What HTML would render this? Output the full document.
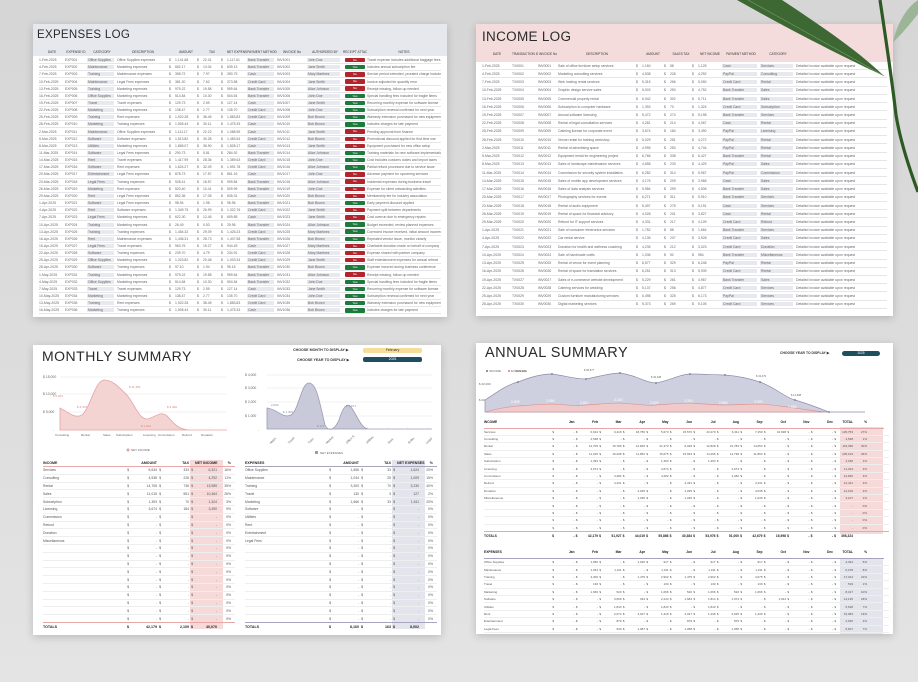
<!DOCTYPE html><html><head><meta charset="utf-8"><style>
*{margin:0;padding:0;box-sizing:border-box}
body{width:918px;height:682px;overflow:hidden;background:linear-gradient(#d6d6d6,#dcdcdc 50%,#e4e4e4);font-family:"Liberation Sans",sans-serif;position:relative;color:#333}
.p{position:absolute;background:#fff;box-shadow:0 2px 8px rgba(0,0,0,.18);overflow:hidden}
.t{position:absolute;font-size:13px;letter-spacing:.3px;color:#2a2a2a}
.r{position:absolute;left:6px;right:6px;display:grid;font-size:3.4px;color:#666;white-space:nowrap;overflow:hidden;border-bottom:.5px solid #e6e6ea;align-items:center}
.r>*{overflow:hidden;font-style:normal;font-weight:normal;text-decoration:none}
.r b{background:#e8e9ee;margin-right:3px;padding-left:1px}
.h{font-weight:bold;color:#333;font-size:3.2px;border:none;text-align:center}
.e{grid-template-columns:26px 22px 30px 52px 6px 22px 6px 18px 6px 20px 30px 30px 36px 24px 74px;height:7.15px}
.e u{height:4.4px;margin:0 2px;border-radius:1px;color:#fff;text-align:center;font-size:3px;line-height:4.4px}
.n{background:#b3252c}.y{background:#1e7a3c}
.i{grid-template-columns:30px 26px 20px 78px 6px 22px 6px 22px 6px 24px 38px 36px 70px;height:8.23px}
#plant{position:absolute;left:0;top:0;z-index:50}
</style></head><body>

<!-- EXPENSES LOG -->
<div class="p" style="left:33px;top:24px;width:414px;height:293px">
<div style="position:absolute;left:0;top:0;right:0;height:32px;background:#e7e8ed"></div>
<div class="t" style="left:4px;top:5px;font-size:11.5px">EXPENSES LOG</div>
<div class="r h e" style="top:24px;height:8px"><i>DATE</i><i>EXPENSE ID</i><i>CATEGORY</i><i>DESCRIPTION</i><i></i><i>AMOUNT</i><i></i><i>TAX</i><i></i><i>NET EXPENSE</i><i>PAYMENT METHOD</i><i>INVOICE No</i><i>AUTHORIZED BY</i><i>RECEIPT ATTACHED</i><i>NOTES</i></div>
<div style="position:absolute;left:0;top:33px;right:0">
<div class="r e" style="top:0"><i>1-Feb-2025</i><i>EXP001</i><b>Office Supplies</b><i>Office Supplies expenses</i><i>$</i><i>1,141.68</i><i>$</i><i>22.41</i><i>$</i><i>1,117.61</i><b>Bank Transfer</b><i>INV1001</i><b>John Doe</b><u class="n">No</u><i>Travel expense includes additional baggage fees</i></div>
<div class="r e" style="top:7.15px"><i>4-Feb-2025</i><i>EXP002</i><b>Maintenance</b><i>Marketing expenses</i><i>$</i><i>652.17</i><i>$</i><i>13.04</i><i>$</i><i>639.13</i><b>Bank Transfer</b><i>INV1002</i><b>Jane Smith</b><u class="y">Yes</u><i>Includes annual subscription fee</i></div>
<div class="r e" style="top:14.3px"><i>7-Feb-2025</i><i>EXP003</i><b>Training</b><i>Maintenance expenses</i><i>$</i><i>398.72</i><i>$</i><i>7.97</i><i>$</i><i>390.75</i><b>Cash</b><i>INV1003</i><b>Mary Martinez</b><u class="n">No</u><i>Service period extended, prorated charge included</i></div>
<div class="r e" style="top:21.45px"><i>10-Feb-2025</i><i>EXP004</i><b>Maintenance</b><i>Legal Fees expenses</i><i>$</i><i>381.20</i><i>$</i><i>7.62</i><i>$</i><i>373.58</i><b>Credit Card</b><i>INV1004</i><b>Jane Smith</b><u class="n">No</u><i>Invoice adjusted for quantity error</i></div>
<div class="r e" style="top:28.6px"><i>13-Feb-2025</i><i>EXP005</i><b>Training</b><i>Marketing expenses</i><i>$</i><i>979.22</i><i>$</i><i>19.58</i><i>$</i><i>959.64</i><b>Bank Transfer</b><i>INV1005</i><b>Alice Johnson</b><u class="n">No</u><i>Receipt missing, follow-up needed</i></div>
<div class="r e" style="top:35.75px"><i>16-Feb-2025</i><i>EXP006</i><b>Office Supplies</b><i>Marketing expenses</i><i>$</i><i>514.84</i><i>$</i><i>10.30</i><i>$</i><i>504.54</i><b>Bank Transfer</b><i>INV1006</i><b>John Doe</b><u class="y">Yes</u><i>Special handling fees included for fragile items</i></div>
<div class="r e" style="top:42.9px"><i>19-Feb-2025</i><i>EXP007</i><b>Travel</b><i>Travel expenses</i><i>$</i><i>129.73</i><i>$</i><i>2.59</i><i>$</i><i>127.14</i><b>Cash</b><i>INV1007</i><b>Jane Smith</b><u class="y">Yes</u><i>Recurring monthly expense for software license</i></div>
<div class="r e" style="top:50.05px"><i>22-Feb-2025</i><i>EXP008</i><b>Marketing</b><i>Marketing expenses</i><i>$</i><i>138.47</i><i>$</i><i>2.77</i><i>$</i><i>135.70</i><b>Credit Card</b><i>INV1008</i><b>John Doe</b><u class="y">Yes</u><i>Subscription renewal confirmed for next year</i></div>
<div class="r e" style="top:57.2px"><i>25-Feb-2025</i><i>EXP009</i><b>Training</b><i>Rent expenses</i><i>$</i><i>1,922.28</i><i>$</i><i>38.45</i><i>$</i><i>1,883.83</i><b>Credit Card</b><i>INV1009</i><b>Bob Brown</b><u class="y">Yes</u><i>Warranty extension purchased for new equipment</i></div>
<div class="r e" style="top:64.35px"><i>28-Feb-2025</i><i>EXP010</i><b>Marketing</b><i>Training expenses</i><i>$</i><i>1,505.44</i><i>$</i><i>30.11</i><i>$</i><i>1,475.33</i><b>Cash</b><i>INV1010</i><b>Bob Brown</b><u class="y">Yes</u><i>Includes charges for late payment</i></div>
<div class="r e" style="top:71.5px"><i>2-Mar-2025</i><i>EXP011</i><b>Maintenance</b><i>Office Supplies expenses</i><i>$</i><i>1,111.17</i><i>$</i><i>22.22</i><i>$</i><i>1,088.95</i><b>Cash</b><i>INV1011</i><b>Jane Smith</b><u class="n">No</u><i>Pending approval from finance</i></div>
<div class="r e" style="top:78.65px"><i>5-Mar-2025</i><i>EXP012</i><b>Software</b><i>Software expenses</i><i>$</i><i>1,513.82</i><i>$</i><i>30.28</i><i>$</i><i>1,483.54</i><b>Credit Card</b><i>INV1012</i><b>Bob Brown</b><u class="n">No</u><i>Promotional discount applied for first-time use</i></div>
<div class="r e" style="top:85.8px"><i>8-Mar-2025</i><i>EXP013</i><b>Utilities</b><i>Marketing expenses</i><i>$</i><i>1,865.07</i><i>$</i><i>36.90</i><i>$</i><i>1,828.17</i><b>Cash</b><i>INV1013</i><b>Jane Smith</b><u class="n">No</u><i>Equipment purchased for new office setup</i></div>
<div class="r e" style="top:92.95px"><i>11-Mar-2025</i><i>EXP014</i><b>Software</b><i>Legal Fees expenses</i><i>$</i><i>290.73</i><i>$</i><i>5.81</i><i>$</i><i>284.92</i><b>Bank Transfer</b><i>INV1014</i><b>Alice Johnson</b><u class="y">Yes</u><i>Training materials for new software implementation</i></div>
<div class="r e" style="top:100.1px"><i>14-Mar-2025</i><i>EXP015</i><b>Rent</b><i>Travel expenses</i><i>$</i><i>1,417.99</i><i>$</i><i>28.36</i><i>$</i><i>1,389.63</i><b>Credit Card</b><i>INV1015</i><b>John Doe</b><u class="y">Yes</u><i>Cost includes customs duties and import taxes</i></div>
<div class="r e" style="top:107.25px"><i>17-Mar-2025</i><i>EXP016</i><b>Software</b><i>Rent expenses</i><i>$</i><i>1,624.27</i><i>$</i><i>32.49</i><i>$</i><i>1,591.78</i><b>Credit Card</b><i>INV1016</i><b>Alice Johnson</b><u class="y">Yes</u><i>Partial refund processed due to service issue</i></div>
<div class="r e" style="top:114.4px"><i>20-Mar-2025</i><i>EXP017</i><b>Entertainment</b><i>Legal Fees expenses</i><i>$</i><i>878.73</i><i>$</i><i>17.57</i><i>$</i><i>861.16</i><b>Cash</b><i>INV1017</i><b>John Doe</b><u class="n">No</u><i>Advance payment for upcoming services</i></div>
<div class="r e" style="top:121.55px"><i>23-Mar-2025</i><i>EXP018</i><b>Legal Fees</b><i>Training expenses</i><i>$</i><i>928.41</i><i>$</i><i>18.57</i><i>$</i><i>909.84</i><b>Bank Transfer</b><i>INV1018</i><b>Alice Johnson</b><u class="n">No</u><i>Incidental expenses during business travel</i></div>
<div class="r e" style="top:128.7px"><i>26-Mar-2025</i><i>EXP019</i><b>Marketing</b><i>Rent expenses</i><i>$</i><i>520.40</i><i>$</i><i>10.41</i><i>$</i><i>509.99</i><b>Bank Transfer</b><i>INV1019</i><b>John Doe</b><u class="n">No</u><i>Expense for client onboarding activities</i></div>
<div class="r e" style="top:135.85px"><i>29-Mar-2025</i><i>EXP020</i><b>Rent</b><i>Legal Fees expenses</i><i>$</i><i>852.36</i><i>$</i><i>17.05</i><i>$</i><i>835.31</i><b>Cash</b><i>INV1020</i><b>Bob Brown</b><u class="n">No</u><i>Membership fee for industry association</i></div>
<div class="r e" style="top:143px"><i>1-Apr-2025</i><i>EXP021</i><b>Software</b><i>Legal Fees expenses</i><i>$</i><i>98.94</i><i>$</i><i>1.98</i><i>$</i><i>96.96</i><b>Bank Transfer</b><i>INV1021</i><b>Bob Brown</b><u class="y">Yes</u><i>Early payment discount applied</i></div>
<div class="r e" style="top:150.15px"><i>4-Apr-2025</i><i>EXP022</i><b>Rent</b><i>Software expenses</i><i>$</i><i>1,349.75</i><i>$</i><i>26.99</i><i>$</i><i>1,322.76</i><b>Credit Card</b><i>INV1022</i><b>Jane Smith</b><u class="n">No</u><i>Payment split between departments</i></div>
<div class="r e" style="top:157.3px"><i>7-Apr-2025</i><i>EXP023</i><b>Legal Fees</b><i>Marketing expenses</i><i>$</i><i>622.30</i><i>$</i><i>12.45</i><i>$</i><i>609.85</i><b>Cash</b><i>INV1023</i><b>Jane Smith</b><u class="n">No</u><i>Cost overrun due to emergency repairs</i></div>
<div class="r e" style="top:164.45px"><i>10-Apr-2025</i><i>EXP024</i><b>Training</b><i>Marketing expenses</i><i>$</i><i>26.49</i><i>$</i><i>0.53</i><i>$</i><i>25.96</i><b>Bank Transfer</b><i>INV1024</i><b>Alice Johnson</b><u class="y">Yes</u><i>Budget exceeded, review planned expenses</i></div>
<div class="r e" style="top:171.6px"><i>13-Apr-2025</i><i>EXP025</i><b>Training</b><i>Training expenses</i><i>$</i><i>1,454.32</i><i>$</i><i>29.09</i><i>$</i><i>1,425.23</i><b>Credit Card</b><i>INV1025</i><b>Mary Martinez</b><u class="y">Yes</u><i>Corrected invoice received, initial amount incorrect</i></div>
<div class="r e" style="top:178.75px"><i>16-Apr-2025</i><i>EXP026</i><b>Rent</b><i>Maintenance expenses</i><i>$</i><i>1,436.31</i><i>$</i><i>28.73</i><i>$</i><i>1,407.58</i><b>Bank Transfer</b><i>INV1026</i><b>Bob Brown</b><u class="y">Yes</u><i>Repeated vendor issue, monitor closely</i></div>
<div class="r e" style="top:185.9px"><i>19-Apr-2025</i><i>EXP027</i><b>Legal Fees</b><i>Travel expenses</i><i>$</i><i>963.76</i><i>$</i><i>19.27</i><i>$</i><i>944.49</i><b>Cash</b><i>INV1027</i><b>Mary Martinez</b><u class="n">No</u><i>Charitable donation made on behalf of company</i></div>
<div class="r e" style="top:193.05px"><i>22-Apr-2025</i><i>EXP028</i><b>Software</b><i>Training expenses</i><i>$</i><i>239.70</i><i>$</i><i>4.79</i><i>$</i><i>234.91</i><b>Credit Card</b><i>INV1028</i><b>Mary Martinez</b><u class="n">No</u><i>Expense shared with partner company</i></div>
<div class="r e" style="top:200.2px"><i>25-Apr-2025</i><i>EXP029</i><b>Office Supplies</b><i>Marketing expenses</i><i>$</i><i>1,023.82</i><i>$</i><i>20.48</i><i>$</i><i>1,003.34</i><b>Credit Card</b><i>INV1029</i><b>Jane Smith</b><u class="n">No</u><i>Staff entertainment expenses for annual retreat</i></div>
<div class="r e" style="top:207.35px"><i>28-Apr-2025</i><i>EXP030</i><b>Software</b><i>Training expenses</i><i>$</i><i>97.10</i><i>$</i><i>1.94</i><i>$</i><i>95.16</i><b>Bank Transfer</b><i>INV1030</i><b>Bob Brown</b><u class="y">Yes</u><i>Expense incurred during business conference</i></div>
<div class="r e" style="top:214.5px"><i>1-May-2025</i><i>EXP031</i><b>Training</b><i>Marketing expenses</i><i>$</i><i>979.22</i><i>$</i><i>19.58</i><i>$</i><i>959.64</i><b>Bank Transfer</b><i>INV1031</i><b>Alice Johnson</b><u class="n">No</u><i>Receipt missing, follow-up needed</i></div>
<div class="r e" style="top:221.65px"><i>4-May-2025</i><i>EXP032</i><b>Office Supplies</b><i>Marketing expenses</i><i>$</i><i>514.84</i><i>$</i><i>10.30</i><i>$</i><i>504.54</i><b>Bank Transfer</b><i>INV1032</i><b>John Doe</b><u class="y">Yes</u><i>Special handling fees included for fragile items</i></div>
<div class="r e" style="top:228.8px"><i>7-May-2025</i><i>EXP033</i><b>Travel</b><i>Travel expenses</i><i>$</i><i>129.73</i><i>$</i><i>2.59</i><i>$</i><i>127.14</i><b>Cash</b><i>INV1033</i><b>Jane Smith</b><u class="y">Yes</u><i>Recurring monthly expense for software license</i></div>
<div class="r e" style="top:235.95px"><i>10-May-2025</i><i>EXP034</i><b>Marketing</b><i>Marketing expenses</i><i>$</i><i>138.47</i><i>$</i><i>2.77</i><i>$</i><i>135.70</i><b>Credit Card</b><i>INV1034</i><b>John Doe</b><u class="y">Yes</u><i>Subscription renewal confirmed for next year</i></div>
<div class="r e" style="top:243.1px"><i>13-May-2025</i><i>EXP035</i><b>Training</b><i>Rent expenses</i><i>$</i><i>1,922.28</i><i>$</i><i>38.45</i><i>$</i><i>1,883.83</i><b>Credit Card</b><i>INV1035</i><b>Bob Brown</b><u class="y">Yes</u><i>Warranty extension purchased for new equipment</i></div>
<div class="r e" style="top:250.25px"><i>16-May-2025</i><i>EXP036</i><b>Marketing</b><i>Training expenses</i><i>$</i><i>1,505.44</i><i>$</i><i>30.11</i><i>$</i><i>1,475.33</i><b>Cash</b><i>INV1036</i><b>Bob Brown</b><u class="y">Yes</u><i>Includes charges for late payment</i></div>
</div></div>

<!-- INCOME LOG -->
<div class="p" style="left:476px;top:24px;width:417px;height:292px">
<div style="position:absolute;left:0;top:0;right:0;height:38px;background:#f3dcdb"></div>
<div class="t" style="left:6px;top:5px;font-size:13.5px">INCOME LOG</div>
<div class="r h i" style="top:26px;height:8px;border:none"><i>DATE</i><i>TRANSACTION ID</i><i>INVOICE No</i><i>DESCRIPTION</i><i></i><i>AMOUNT</i><i></i><i>SALES TAX</i><i></i><i>NET INCOME</i><i>PAYMENT METHOD</i><i>CATEGORY</i><i></i></div>
<div style="position:absolute;left:0;top:38px;right:0">
<div class="r i" style="top:0"><i>1-Feb-2025</i><i>TX0001</i><i>INV0001</i><i>Sale of office furniture setup services</i><i>$</i><i>1,160</i><i>$</i><i>58</i><i>$</i><i>1,125</i><b>Cash</b><b>Services</b><i>Detailed invoice available upon request</i></div>
<div class="r i" style="top:8.23px"><i>4-Feb-2025</i><i>TX0002</i><i>INV0002</i><i>Marketing consulting services</i><i>$</i><i>4,538</i><i>$</i><i>226</i><i>$</i><i>4,292</i><b>PayPal</b><b>Consulting</b><i>Detailed invoice available upon request</i></div>
<div class="r i" style="top:16.46px"><i>7-Feb-2025</i><i>TX0003</i><i>INV0003</i><i>Web hosting rental services</i><i>$</i><i>5,315</i><i>$</i><i>266</i><i>$</i><i>5,050</i><b>Credit Card</b><b>Rental</b><i>Detailed invoice available upon request</i></div>
<div class="r i" style="top:24.69px"><i>10-Feb-2025</i><i>TX0004</i><i>INV0004</i><i>Graphic design service sales</i><i>$</i><i>5,003</i><i>$</i><i>250</i><i>$</i><i>4,752</i><b>Bank Transfer</b><b>Sales</b><i>Detailed invoice available upon request</i></div>
<div class="r i" style="top:32.92px"><i>13-Feb-2025</i><i>TX0005</i><i>INV0005</i><i>Commercial property rental</i><i>$</i><i>6,042</i><i>$</i><i>302</i><i>$</i><i>5,711</i><b>Bank Transfer</b><b>Sales</b><i>Detailed invoice available upon request</i></div>
<div class="r i" style="top:41.15px"><i>16-Feb-2025</i><i>TX0006</i><i>INV0006</i><i>Subscription to computer hardware</i><i>$</i><i>1,393</i><i>$</i><i>70</i><i>$</i><i>1,324</i><b>Credit Card</b><b>Subscription</b><i>Detailed invoice available upon request</i></div>
<div class="r i" style="top:49.38px"><i>19-Feb-2025</i><i>TX0007</i><i>INV0007</i><i>Annual software licensing</i><i>$</i><i>5,472</i><i>$</i><i>274</i><i>$</i><i>5,198</i><b>Bank Transfer</b><b>Services</b><i>Detailed invoice available upon request</i></div>
<div class="r i" style="top:57.61px"><i>22-Feb-2025</i><i>TX0008</i><i>INV0008</i><i>Rental of legal consultation services</i><i>$</i><i>4,281</i><i>$</i><i>214</i><i>$</i><i>4,067</i><b>Cash</b><b>Rental</b><i>Detailed invoice available upon request</i></div>
<div class="r i" style="top:65.84px"><i>25-Feb-2025</i><i>TX0009</i><i>INV0009</i><i>Catering license for corporate event</i><i>$</i><i>3,674</i><i>$</i><i>184</i><i>$</i><i>3,490</i><b>PayPal</b><b>Licensing</b><i>Detailed invoice available upon request</i></div>
<div class="r i" style="top:74.07px"><i>28-Feb-2025</i><i>TX0010</i><i>INV0010</i><i>Venue rental for training workshop</i><i>$</i><i>5,029</i><i>$</i><i>251</i><i>$</i><i>4,272</i><b>PayPal</b><b>Rental</b><i>Detailed invoice available upon request</i></div>
<div class="r i" style="top:82.3px"><i>2-Mar-2025</i><i>TX0011</i><i>INV0011</i><i>Rental of advertising space</i><i>$</i><i>4,995</i><i>$</i><i>250</i><i>$</i><i>4,744</i><b>PayPal</b><b>Rental</b><i>Detailed invoice available upon request</i></div>
<div class="r i" style="top:90.53px"><i>5-Mar-2025</i><i>TX0012</i><i>INV0012</i><i>Equipment rental for engineering project</i><i>$</i><i>6,766</i><i>$</i><i>338</i><i>$</i><i>6,427</i><b>Bank Transfer</b><b>Rental</b><i>Detailed invoice available upon request</i></div>
<div class="r i" style="top:98.76px"><i>8-Mar-2025</i><i>TX0013</i><i>INV0013</i><i>Sales of landscape maintenance services</i><i>$</i><i>4,658</i><i>$</i><i>233</i><i>$</i><i>4,425</i><b>PayPal</b><b>Sales</b><i>Detailed invoice available upon request</i></div>
<div class="r i" style="top:106.99px"><i>11-Mar-2025</i><i>TX0014</i><i>INV0014</i><i>Commission for security system installation</i><i>$</i><i>6,282</i><i>$</i><i>314</i><i>$</i><i>5,967</i><b>PayPal</b><b>Commission</b><i>Detailed invoice available upon request</i></div>
<div class="r i" style="top:115.22px"><i>14-Mar-2025</i><i>TX0015</i><i>INV0015</i><i>Sales of mobile app development services</i><i>$</i><i>4,176</i><i>$</i><i>209</i><i>$</i><i>3,968</i><b>Cash</b><b>Sales</b><i>Detailed invoice available upon request</i></div>
<div class="r i" style="top:123.45px"><i>17-Mar-2025</i><i>TX0016</i><i>INV0016</i><i>Sales of data analysis services</i><i>$</i><i>5,984</i><i>$</i><i>299</i><i>$</i><i>4,506</i><b>Bank Transfer</b><b>Sales</b><i>Detailed invoice available upon request</i></div>
<div class="r i" style="top:131.68px"><i>20-Mar-2025</i><i>TX0017</i><i>INV0017</i><i>Photography services for events</i><i>$</i><i>6,271</i><i>$</i><i>311</i><i>$</i><i>5,910</i><b>Bank Transfer</b><b>Services</b><i>Detailed invoice available upon request</i></div>
<div class="r i" style="top:139.91px"><i>23-Mar-2025</i><i>TX0018</i><i>INV0018</i><i>Rental of audio equipment</i><i>$</i><i>5,497</i><i>$</i><i>275</i><i>$</i><i>5,191</i><b>Cash</b><b>Services</b><i>Detailed invoice available upon request</i></div>
<div class="r i" style="top:148.14px"><i>26-Mar-2025</i><i>TX0019</i><i>INV0019</i><i>Rental of space for financial advisory</i><i>$</i><i>4,028</i><i>$</i><i>201</i><i>$</i><i>3,827</i><b>Cash</b><b>Rental</b><i>Detailed invoice available upon request</i></div>
<div class="r i" style="top:156.37px"><i>29-Mar-2025</i><i>TX0020</i><i>INV0020</i><i>Refund for IT support services</i><i>$</i><i>4,331</i><i>$</i><i>217</i><i>$</i><i>4,109</i><b>Credit Card</b><b>Refund</b><i>Detailed invoice available upon request</i></div>
<div class="r i" style="top:164.6px"><i>1-Apr-2025</i><i>TX0021</i><i>INV0021</i><i>Sale of consumer electronics services</i><i>$</i><i>1,752</i><i>$</i><i>88</i><i>$</i><i>1,664</i><b>Bank Transfer</b><b>Services</b><i>Detailed invoice available upon request</i></div>
<div class="r i" style="top:172.83px"><i>4-Apr-2025</i><i>TX0022</i><i>INV0022</i><i>Car rental service</i><i>$</i><i>4,135</i><i>$</i><i>207</i><i>$</i><i>3,928</i><b>Credit Card</b><b>Sales</b><i>Detailed invoice available upon request</i></div>
<div class="r i" style="top:181.06px"><i>7-Apr-2025</i><i>TX0023</i><i>INV0023</i><i>Donation for health and wellness coaching</i><i>$</i><i>4,235</i><i>$</i><i>212</i><i>$</i><i>3,023</i><b>Credit Card</b><b>Donation</b><i>Detailed invoice available upon request</i></div>
<div class="r i" style="top:189.29px"><i>10-Apr-2025</i><i>TX0024</i><i>INV0024</i><i>Sale of handmade crafts</i><i>$</i><i>1,036</i><i>$</i><i>52</i><i>$</i><i>984</i><b>Bank Transfer</b><b>Miscellaneous</b><i>Detailed invoice available upon request</i></div>
<div class="r i" style="top:197.52px"><i>13-Apr-2025</i><i>TX0025</i><i>INV0025</i><i>Rental of venue for event planning</i><i>$</i><i>6,577</i><i>$</i><i>329</i><i>$</i><i>6,248</i><b>PayPal</b><b>Rental</b><i>Detailed invoice available upon request</i></div>
<div class="r i" style="top:205.75px"><i>16-Apr-2025</i><i>TX0026</i><i>INV0026</i><i>Rental of space for translation services</i><i>$</i><i>6,251</i><i>$</i><i>313</i><i>$</i><i>5,939</i><b>Credit Card</b><b>Rental</b><i>Detailed invoice available upon request</i></div>
<div class="r i" style="top:213.98px"><i>19-Apr-2025</i><i>TX0027</i><i>INV0027</i><i>Sales of e-commerce website development</i><i>$</i><i>5,229</i><i>$</i><i>261</i><i>$</i><i>4,967</i><b>Bank Transfer</b><b>Sales</b><i>Detailed invoice available upon request</i></div>
<div class="r i" style="top:222.21px"><i>22-Apr-2025</i><i>TX0028</i><i>INV0028</i><i>Catering services for wedding</i><i>$</i><i>5,137</i><i>$</i><i>256</i><i>$</i><i>4,877</i><b>Credit Card</b><b>Services</b><i>Detailed invoice available upon request</i></div>
<div class="r i" style="top:230.44px"><i>25-Apr-2025</i><i>TX0029</i><i>INV0029</i><i>Custom furniture manufacturing services</i><i>$</i><i>6,498</i><i>$</i><i>325</i><i>$</i><i>6,173</i><b>PayPal</b><b>Services</b><i>Detailed invoice available upon request</i></div>
<div class="r i" style="top:238.67px"><i>28-Apr-2025</i><i>TX0030</i><i>INV0030</i><i>Digital marketing services</i><i>$</i><i>5,373</i><i>$</i><i>269</i><i>$</i><i>5,105</i><b>Credit Card</b><b>Services</b><i>Detailed invoice available upon request</i></div>
</div></div>

<!-- MONTHLY SUMMARY -->
<div class="p" style="left:33px;top:345px;width:408px;height:290px">
<div class="t" style="left:9px;top:3px;font-size:14px;letter-spacing:.5px">MONTHLY SUMMARY</div>
<div style="position:absolute;left:260px;top:3px;font-size:3.6px;font-weight:bold;color:#333">CHOOSE MONTH TO DISPLAY ▶</div>
<div style="position:absolute;left:330px;top:2.5px;width:59px;height:5px;background:#f6dd9a;border-radius:2px;font-size:3.4px;text-align:center;line-height:5px">February</div>
<div style="position:absolute;left:264px;top:12.5px;font-size:3.6px;font-weight:bold;color:#333">CHOOSE YEAR TO DISPLAY ▶</div>
<div style="position:absolute;left:330px;top:12px;width:59px;height:5px;background:#1f4e5e;border-radius:2px;font-size:3.4px;color:#fff;text-align:center;line-height:5px">2025</div>
<svg style="position:absolute;left:0;top:0" width="408" height="110" font-size="3.4" fill="#666">
<g stroke="#e3e3e3" stroke-width=".5"><line x1="27" y1="32" x2="194" y2="32"/><line x1="27" y1="49" x2="194" y2="49"/><line x1="27" y1="67" x2="194" y2="67"/>
<line x1="234" y1="30" x2="399" y2="30"/><line x1="234" y1="43" x2="399" y2="43"/><line x1="234" y1="57" x2="399" y2="57"/><line x1="234" y1="71" x2="399" y2="71"/></g>
<text x="10" y="33">$ 15,000</text><text x="10" y="50">$ 10,000</text><text x="10" y="68">$ 5,000</text><text x="20" y="86">-</text>
<path d="M27,63 C35,67 42,74 49,70 C58,62 62,34 72,35 C82,36 88,45 94,50 C102,60 106,74 114,74 C122,73 128,64 135,72 C142,80 147,85 157,85 L194,85 L194,85 L27,85Z" fill="#f4d4d3" stroke="#e2a4a3" stroke-width=".8"/>
<g fill="#e08080" font-size="3"><text x="20" y="52">$ 6,201</text><text x="44" y="63">$ 4,470</text><text x="96" y="43">$ 11,464</text><text x="108" y="82">$ 1,324</text><text x="134" y="63">$ 3,490</text><text x="157" y="83">-</text><text x="176" y="83">-</text><text x="193" y="83">-</text></g>
<g font-size="3"><text x="22" y="91">Consulting</text><text x="48" y="91">Rental</text><text x="70" y="91">Sales</text><text x="83" y="91">Subscription</text><text x="110" y="91">Licensing</text><text x="125" y="91">Commission</text><text x="149" y="91">Refund</text><text x="168" y="91">Donation</text></g>
<circle cx="95" cy="105" r="1.5" fill="#e8a0a0"/><text x="98" y="106" font-size="3">NET INCOME</text>
<text x="212" y="31">$ 4,000</text><text x="212" y="44">$ 3,000</text><text x="212" y="58">$ 2,000</text><text x="212" y="72">$ 1,000</text><text x="225" y="86">-</text>
<path d="M234,63 C244,64 250,74 258,70 C266,65 268,38 276,38 C284,38 287,60 292,80 C296,88 302,84 306,75 C310,62 314,57 318,62 C324,70 328,84 336,84 L399,84 L234,84Z" fill="#c9cad9" stroke="#9a9bb4" stroke-width=".8"/>
<g fill="#8889a5" font-size="3"><text x="238" y="61">2,000</text><text x="250" y="68">$ 1,300</text><text x="284" y="82">$ 127</text><text x="313" y="62">$ 1,671</text><text x="334" y="83">-</text><text x="354" y="83">-</text><text x="374" y="83">-</text><text x="395" y="83">-</text></g>
<g font-size="3"><text transform="translate(238,99) rotate(-45)">Maint.</text><text transform="translate(256,99) rotate(-45)">Travel</text><text transform="translate(276,99) rotate(-45)">Train.</text><text transform="translate(294,99) rotate(-45)">Market.</text><text transform="translate(314,99) rotate(-45)">Office S.</text><text transform="translate(334,99) rotate(-45)">Utilities</text><text transform="translate(356,99) rotate(-45)">Rent</text><text transform="translate(376,99) rotate(-45)">Softw.</text><text transform="translate(394,99) rotate(-45)">Legal</text></g>
<rect x="282" y="106" width="3" height="3" fill="#9a9bb4"/><text x="287" y="109" font-size="3">NET EXPENSES</text>
</svg>
<div style="position:absolute;left:157px;top:115px;width:33px;height:169px;background:#f6dada"></div>
<div style="position:absolute;left:359px;top:115px;width:33px;height:169px;background:#e3e4ec"></div>
<div style="position:absolute;left:10px;top:121px;width:192px;border-top:.8px solid #e7a9a8"></div>
<div style="position:absolute;left:212px;top:121px;width:192px;border-top:.8px solid #a5a6bd"></div>
<div style="position:absolute;left:0;top:114px;width:408px;font-size:3.4px;color:#555">
<style>
.m{position:absolute;height:7.8px;display:grid;grid-template-columns:84px 4px 28px 4px 28px 4px 24px 14px;align-items:center;border-bottom:.5px solid #eee;white-space:nowrap;overflow:hidden;width:192px}
.m i{font-style:normal;text-align:right;padding-right:2px}.m i:first-child{text-align:left}.m.k{font-weight:bold;color:#222;font-size:3.6px;border:none}
</style>
<div class="m k" style="left:10px;top:0"><i>INCOME</i><i></i><i>AMOUNT</i><i></i><i>TAX</i><i></i><i>NET INCOME</i><i>%</i></div>
<div class="m" style="left:10px;top:8px"><i>Services</i><i>$</i><i>6,634</i><i>$</i><i>333</i><i>$</i><i>6,321</i><i>16%</i></div>
<div class="m" style="left:10px;top:15.8px"><i>Consulting</i><i>$</i><i>4,538</i><i>$</i><i>226</i><i>$</i><i>4,292</i><i>11%</i></div>
<div class="m" style="left:10px;top:23.6px"><i>Rental</i><i>$</i><i>14,705</i><i>$</i><i>736</i><i>$</i><i>13,989</i><i>35%</i></div>
<div class="m" style="left:10px;top:31.4px"><i>Sales</i><i>$</i><i>11,015</i><i>$</i><i>551</i><i>$</i><i>10,464</i><i>26%</i></div>
<div class="m" style="left:10px;top:39.2px"><i>Subscription</i><i>$</i><i>1,393</i><i>$</i><i>70</i><i>$</i><i>1,324</i><i>3%</i></div>
<div class="m" style="left:10px;top:47px"><i>Licensing</i><i>$</i><i>3,674</i><i>$</i><i>184</i><i>$</i><i>3,490</i><i>9%</i></div>
<div class="m" style="left:10px;top:54.8px"><i>Commission</i><i>$</i><i>-</i><i>$</i><i>-</i><i>$</i><i>-</i><i>0%</i></div>
<div class="m" style="left:10px;top:62.6px"><i>Refund</i><i>$</i><i>-</i><i>$</i><i>-</i><i>$</i><i>-</i><i>0%</i></div>
<div class="m" style="left:10px;top:70.4px"><i>Donation</i><i>$</i><i>-</i><i>$</i><i>-</i><i>$</i><i>-</i><i>0%</i></div>
<div class="m" style="left:10px;top:78.2px"><i>Miscellaneous</i><i>$</i><i>-</i><i>$</i><i>-</i><i>$</i><i>-</i><i>0%</i></div>
<div class="m" style="left:10px;top:86px"><i></i><i>$</i><i>-</i><i>$</i><i>-</i><i>$</i><i>-</i><i>0%</i></div>
<div class="m" style="left:10px;top:93.8px"><i></i><i>$</i><i>-</i><i>$</i><i>-</i><i>$</i><i>-</i><i>0%</i></div>
<div class="m" style="left:10px;top:101.6px"><i></i><i>$</i><i>-</i><i>$</i><i>-</i><i>$</i><i>-</i><i>0%</i></div>
<div class="m" style="left:10px;top:109.4px"><i></i><i>$</i><i>-</i><i>$</i><i>-</i><i>$</i><i>-</i><i>0%</i></div>
<div class="m" style="left:10px;top:117.2px"><i></i><i>$</i><i>-</i><i>$</i><i>-</i><i>$</i><i>-</i><i>0%</i></div>
<div class="m" style="left:10px;top:125px"><i></i><i>$</i><i>-</i><i>$</i><i>-</i><i>$</i><i>-</i><i>0%</i></div>
<div class="m" style="left:10px;top:132.8px"><i></i><i>$</i><i>-</i><i>$</i><i>-</i><i>$</i><i>-</i><i>0%</i></div>
<div class="m" style="left:10px;top:140.6px"><i></i><i>$</i><i>-</i><i>$</i><i>-</i><i>$</i><i>-</i><i>0%</i></div>
<div class="m" style="left:10px;top:148.4px"><i></i><i>$</i><i>-</i><i>$</i><i>-</i><i>$</i><i>-</i><i>0%</i></div>
<div class="m" style="left:10px;top:156.2px;border-bottom:.8px solid #e7a9a8"><i></i><i>$</i><i>-</i><i>$</i><i>-</i><i>$</i><i>-</i><i>0%</i></div>
<div class="m k" style="left:10px;top:164.5px"><i>TOTALS</i><i>$</i><i>42,179</i><i>$</i><i>2,109</i><i>$</i><i>40,070</i><i></i></div>

<div class="m k" style="left:212px;top:0"><i>EXPENSES</i><i></i><i>AMOUNT</i><i></i><i>TAX</i><i></i><i>NET EXPENSES</i><i>%</i></div>
<div class="m" style="left:212px;top:8px"><i>Office Supplies</i><i>$</i><i>1,656</i><i>$</i><i>33</i><i>$</i><i>1,624</i><i>20%</i></div>
<div class="m" style="left:212px;top:15.8px"><i>Maintenance</i><i>$</i><i>1,034</i><i>$</i><i>25</i><i>$</i><i>1,009</i><i>15%</i></div>
<div class="m" style="left:212px;top:23.6px"><i>Training</i><i>$</i><i>3,300</i><i>$</i><i>70</i><i>$</i><i>3,230</i><i>40%</i></div>
<div class="m" style="left:212px;top:31.4px"><i>Travel</i><i>$</i><i>130</i><i>$</i><i>3</i><i>$</i><i>127</i><i>2%</i></div>
<div class="m" style="left:212px;top:39.2px"><i>Marketing</i><i>$</i><i>1,666</i><i>$</i><i>33</i><i>$</i><i>1,611</i><i>20%</i></div>
<div class="m" style="left:212px;top:47px"><i>Software</i><i>$</i><i>-</i><i>$</i><i>-</i><i>$</i><i>-</i><i>0%</i></div>
<div class="m" style="left:212px;top:54.8px"><i>Utilities</i><i>$</i><i>-</i><i>$</i><i>-</i><i>$</i><i>-</i><i>0%</i></div>
<div class="m" style="left:212px;top:62.6px"><i>Rent</i><i>$</i><i>-</i><i>$</i><i>-</i><i>$</i><i>-</i><i>0%</i></div>
<div class="m" style="left:212px;top:70.4px"><i>Entertainment</i><i>$</i><i>-</i><i>$</i><i>-</i><i>$</i><i>-</i><i>0%</i></div>
<div class="m" style="left:212px;top:78.2px"><i>Legal Fees</i><i>$</i><i>-</i><i>$</i><i>-</i><i>$</i><i>-</i><i>0%</i></div>
<div class="m" style="left:212px;top:86px"><i></i><i>$</i><i>-</i><i>$</i><i>-</i><i>$</i><i>-</i><i>0%</i></div>
<div class="m" style="left:212px;top:93.8px"><i></i><i>$</i><i>-</i><i>$</i><i>-</i><i>$</i><i>-</i><i>0%</i></div>
<div class="m" style="left:212px;top:101.6px"><i></i><i>$</i><i>-</i><i>$</i><i>-</i><i>$</i><i>-</i><i>0%</i></div>
<div class="m" style="left:212px;top:109.4px"><i></i><i>$</i><i>-</i><i>$</i><i>-</i><i>$</i><i>-</i><i>0%</i></div>
<div class="m" style="left:212px;top:117.2px"><i></i><i>$</i><i>-</i><i>$</i><i>-</i><i>$</i><i>-</i><i>0%</i></div>
<div class="m" style="left:212px;top:125px"><i></i><i>$</i><i>-</i><i>$</i><i>-</i><i>$</i><i>-</i><i>0%</i></div>
<div class="m" style="left:212px;top:132.8px"><i></i><i>$</i><i>-</i><i>$</i><i>-</i><i>$</i><i>-</i><i>0%</i></div>
<div class="m" style="left:212px;top:140.6px"><i></i><i>$</i><i>-</i><i>$</i><i>-</i><i>$</i><i>-</i><i>0%</i></div>
<div class="m" style="left:212px;top:148.4px"><i></i><i>$</i><i>-</i><i>$</i><i>-</i><i>$</i><i>-</i><i>0%</i></div>
<div class="m" style="left:212px;top:156.2px;border-bottom:.8px solid #a5a6bd"><i></i><i>$</i><i>-</i><i>$</i><i>-</i><i>$</i><i>-</i><i>0%</i></div>
<div class="m k" style="left:212px;top:164.5px"><i>TOTALS</i><i>$</i><i>8,160</i><i>$</i><i>163</i><i>$</i><i>8,002</i><i></i></div>
</div>
</div>

<!-- ANNUAL SUMMARY -->
<div class="p" style="left:476px;top:343px;width:417px;height:291px">
<div class="t" style="left:9px;top:2px;font-size:14.5px;letter-spacing:.5px">ANNUAL SUMMARY</div>
<div style="position:absolute;left:304px;top:8px;font-size:3.4px;font-weight:bold;color:#333">CHOOSE YEAR TO DISPLAY ▶</div>
<div style="position:absolute;left:366px;top:7.5px;width:38px;height:5px;background:#1f4e5e;border-radius:2.5px;font-size:3.2px;color:#fff;text-align:center;line-height:5px">2025</div>
<svg style="position:absolute;left:0;top:0" width="417" height="80" font-size="3" fill="#666">
<circle cx="11" cy="28" r="1" fill="#6d6e90"/><text x="13" y="29">INCOME</text><circle cx="33" cy="28" r="1" fill="#d77"/><text x="35" y="29">EXPENSES</text>
<text x="3" y="42">$ 40,000</text><text x="3" y="58">$ 20,000</text>
<path d="M9,57 C20,50 30,42 42,39 C55,34 65,31 76,31 C90,33 100,36 110,36 C125,33 135,30 144,30 C160,32 170,40 180,40 C195,37 205,31 214,31 C228,31 240,32 249,32 C262,33 272,35 284,39 C300,45 310,55 319,57 C333,61 345,66 353,69 L389,69 L9,69Z" fill="#cfd0df" stroke="#8c8da9" stroke-width=".7"/>
<path d="M9,69 C20,66 30,64 42,63 C55,62 65,61 76,61 C90,62 100,63 110,62 C125,61 135,60 144,60 C160,61 170,63 180,62 C195,61 205,60 214,60 C228,61 240,62 249,62 C262,62 272,61 284,61 C300,62 310,64 319,65 C333,67 345,69 353,69Z" fill="#f0c9c9" stroke="#d98a8a" stroke-width=".6"/>
<g fill="#6d6e90"><circle cx="42" cy="39" r=".9"/><circle cx="76" cy="31" r=".9"/><circle cx="110" cy="36" r=".9"/><circle cx="144" cy="30" r=".9"/><circle cx="180" cy="40" r=".9"/><circle cx="214" cy="31" r=".9"/><circle cx="249" cy="32" r=".9"/><circle cx="284" cy="39" r=".9"/><circle cx="319" cy="57" r=".9"/><circle cx="353" cy="69" r=".9"/></g>
<g fill="#fff" font-size="3.4"><text x="35" y="60">2,835</text><text x="70" y="59">2,954</text><text x="104" y="61">2,810</text><text x="138" y="58">3,183</text><text x="174" y="61">2,829</text><text x="208" y="59">3,300</text><text x="243" y="61">2,890</text><text x="278" y="60">3,009</text><text x="312" y="65">1,884</text></g>
<g font-size="2.6"><text x="40" y="29">$ 42,179</text><text x="108" y="28">$ 36,577</text><text x="175" y="35">$ 40,108</text><text x="280" y="34">$ 43,479</text><text x="315" y="53">$ 14,998</text></g>
</svg>
<style>
.a{position:absolute;left:8px;width:405px;height:7.4px;display:grid;grid-template-columns:68px repeat(12,3px 20.5px) 3px 17px 14px;align-items:center;border-bottom:.5px solid #eee;font-size:3px;color:#555;white-space:nowrap;overflow:hidden}
.a i{font-style:normal;text-align:right;padding-right:1px}.a i:first-child{text-align:left}.a.k{font-weight:bold;color:#222;font-size:3.3px;border:none}
</style>
<div style="position:absolute;left:364px;top:84px;width:43px;height:107px;background:#f6dada"></div>
<div style="position:absolute;left:364px;top:215px;width:43px;height:76px;background:#e3e4ec"></div>
<div style="position:absolute;left:8px;top:84.5px;width:400px;border-top:.8px solid #e7a9a8"></div>
<div style="position:absolute;left:8px;top:215px;width:400px;border-top:.8px solid #a5a6bd"></div>
<div class="a k" style="top:75px"><i>INCOME</i><i></i><i>Jan</i><i></i><i>Feb</i><i></i><i>Mar</i><i></i><i>Apr</i><i></i><i>May</i><i></i><i>Jun</i><i></i><i>Jul</i><i></i><i>Aug</i><i></i><i>Sep</i><i></i><i>Oct</i><i></i><i>Nov</i><i></i><i>Dec</i><i></i><i>TOTAL</i><i>%</i></div>
<div class="a" style="top:85.5px"><i>Services</i><i>$</i><i>-</i><i>$</i><i>6,634</i><i>$</i><i>9,418</i><i>$</i><i>18,750</i><i>$</i><i>5,673</i><i>$</i><i>15,570</i><i>$</i><i>23,470</i><i>$</i><i>6,311</i><i>$</i><i>7,159</i><i>$</i><i>16,998</i><i>$</i><i>-</i><i>$</i><i>-</i><i>$</i><i>105,753</i><i>27%</i></div>
<div class="a" style="top:92.9px"><i>Consulting</i><i>$</i><i>-</i><i>$</i><i>4,538</i><i>$</i><i>-</i><i>$</i><i>-</i><i>$</i><i>-</i><i>$</i><i>-</i><i>$</i><i>-</i><i>$</i><i>-</i><i>$</i><i>-</i><i>$</i><i>-</i><i>$</i><i>-</i><i>$</i><i>-</i><i>$</i><i>4,538</i><i>1%</i></div>
<div class="a" style="top:100.3px"><i>Rental</i><i>$</i><i>-</i><i>$</i><i>14,705</i><i>$</i><i>15,789</i><i>$</i><i>12,826</i><i>$</i><i>21,373</i><i>$</i><i>6,026</i><i>$</i><i>12,828</i><i>$</i><i>21,783</i><i>$</i><i>14,654</i><i>$</i><i>-</i><i>$</i><i>-</i><i>$</i><i>-</i><i>$</i><i>119,390</i><i>30%</i></div>
<div class="a" style="top:107.7px"><i>Sales</i><i>$</i><i>-</i><i>$</i><i>11,015</i><i>$</i><i>16,298</i><i>$</i><i>11,864</i><i>$</i><i>15,675</i><i>$</i><i>15,693</i><i>$</i><i>14,266</i><i>$</i><i>14,738</i><i>$</i><i>11,864</i><i>$</i><i>-</i><i>$</i><i>-</i><i>$</i><i>-</i><i>$</i><i>105,193</i><i>26%</i></div>
<div class="a" style="top:115.1px"><i>Subscription</i><i>$</i><i>-</i><i>$</i><i>1,393</i><i>$</i><i>-</i><i>$</i><i>-</i><i>$</i><i>1,393</i><i>$</i><i>-</i><i>$</i><i>1,393</i><i>$</i><i>-</i><i>$</i><i>-</i><i>$</i><i>-</i><i>$</i><i>-</i><i>$</i><i>-</i><i>$</i><i>4,180</i><i>1%</i></div>
<div class="a" style="top:122.5px"><i>Licensing</i><i>$</i><i>-</i><i>$</i><i>3,674</i><i>$</i><i>-</i><i>$</i><i>-</i><i>$</i><i>3,674</i><i>$</i><i>-</i><i>$</i><i>-</i><i>$</i><i>3,674</i><i>$</i><i>-</i><i>$</i><i>-</i><i>$</i><i>-</i><i>$</i><i>-</i><i>$</i><i>11,023</i><i>3%</i></div>
<div class="a" style="top:129.9px"><i>Commission</i><i>$</i><i>-</i><i>$</i><i>-</i><i>$</i><i>4,282</i><i>$</i><i>-</i><i>$</i><i>4,282</i><i>$</i><i>-</i><i>$</i><i>-</i><i>$</i><i>4,282</i><i>$</i><i>-</i><i>$</i><i>-</i><i>$</i><i>-</i><i>$</i><i>-</i><i>$</i><i>12,845</i><i>3%</i></div>
<div class="a" style="top:137.3px"><i>Refund</i><i>$</i><i>-</i><i>$</i><i>-</i><i>$</i><i>4,331</i><i>$</i><i>-</i><i>$</i><i>-</i><i>$</i><i>4,331</i><i>$</i><i>-</i><i>$</i><i>-</i><i>$</i><i>4,331</i><i>$</i><i>-</i><i>$</i><i>-</i><i>$</i><i>-</i><i>$</i><i>12,441</i><i>3%</i></div>
<div class="a" style="top:144.7px"><i>Donation</i><i>$</i><i>-</i><i>$</i><i>-</i><i>$</i><i>-</i><i>$</i><i>4,035</i><i>$</i><i>-</i><i>$</i><i>4,035</i><i>$</i><i>-</i><i>$</i><i>-</i><i>$</i><i>4,035</i><i>$</i><i>-</i><i>$</i><i>-</i><i>$</i><i>-</i><i>$</i><i>12,106</i><i>3%</i></div>
<div class="a" style="top:152.1px"><i>Miscellaneous</i><i>$</i><i>-</i><i>$</i><i>-</i><i>$</i><i>-</i><i>$</i><i>1,036</i><i>$</i><i>-</i><i>$</i><i>1,036</i><i>$</i><i>-</i><i>$</i><i>-</i><i>$</i><i>1,036</i><i>$</i><i>-</i><i>$</i><i>-</i><i>$</i><i>-</i><i>$</i><i>3,107</i><i>1%</i></div>
<div class="a" style="top:159.5px"><i></i><i>$</i><i>-</i><i>$</i><i>-</i><i>$</i><i>-</i><i>$</i><i>-</i><i>$</i><i>-</i><i>$</i><i>-</i><i>$</i><i>-</i><i>$</i><i>-</i><i>$</i><i>-</i><i>$</i><i>-</i><i>$</i><i>-</i><i>$</i><i>-</i><i>$</i><i>-</i><i>0%</i></div>
<div class="a" style="top:166.9px"><i></i><i>$</i><i>-</i><i>$</i><i>-</i><i>$</i><i>-</i><i>$</i><i>-</i><i>$</i><i>-</i><i>$</i><i>-</i><i>$</i><i>-</i><i>$</i><i>-</i><i>$</i><i>-</i><i>$</i><i>-</i><i>$</i><i>-</i><i>$</i><i>-</i><i>$</i><i>-</i><i>0%</i></div>
<div class="a" style="top:174.3px"><i></i><i>$</i><i>-</i><i>$</i><i>-</i><i>$</i><i>-</i><i>$</i><i>-</i><i>$</i><i>-</i><i>$</i><i>-</i><i>$</i><i>-</i><i>$</i><i>-</i><i>$</i><i>-</i><i>$</i><i>-</i><i>$</i><i>-</i><i>$</i><i>-</i><i>$</i><i>-</i><i>0%</i></div>
<div class="a" style="top:181.7px;border-bottom:.8px solid #e7a9a8"><i></i><i>$</i><i>-</i><i>$</i><i>-</i><i>$</i><i>-</i><i>$</i><i>-</i><i>$</i><i>-</i><i>$</i><i>-</i><i>$</i><i>-</i><i>$</i><i>-</i><i>$</i><i>-</i><i>$</i><i>-</i><i>$</i><i>-</i><i>$</i><i>-</i><i>$</i><i>-</i><i>0%</i></div>
<div class="a k" style="top:189.5px"><i>TOTALS</i><i>$</i><i>-</i><i>$</i><i>42,179</i><i>$</i><i>51,927</i><i>$</i><i>44,019</i><i>$</i><i>55,866</i><i>$</i><i>40,384</i><i>$</i><i>53,976</i><i>$</i><i>51,000</i><i>$</i><i>42,679</i><i>$</i><i>16,998</i><i>$</i><i>-</i><i>$</i><i>-</i><i>$</i><i>398,324</i><i></i></div>
<div class="a k" style="top:205px"><i>EXPENSES</i><i></i><i>Jan</i><i></i><i>Feb</i><i></i><i>Mar</i><i></i><i>Apr</i><i></i><i>May</i><i></i><i>Jun</i><i></i><i>Jul</i><i></i><i>Aug</i><i></i><i>Sep</i><i></i><i>Oct</i><i></i><i>Nov</i><i></i><i>Dec</i><i></i><i>TOTAL</i><i>%</i></div>
<div class="a" style="top:216px"><i>Office Supplies</i><i>$</i><i>-</i><i>$</i><i>1,656</i><i>$</i><i>-</i><i>$</i><i>1,026</i><i>$</i><i>917</i><i>$</i><i>-</i><i>$</i><i>917</i><i>$</i><i>-</i><i>$</i><i>917</i><i>$</i><i>-</i><i>$</i><i>-</i><i>$</i><i>-</i><i>$</i><i>4,334</i><i>5%</i></div>
<div class="a" style="top:223.4px"><i>Maintenance</i><i>$</i><i>-</i><i>$</i><i>1,034</i><i>$</i><i>1,311</i><i>$</i><i>-</i><i>$</i><i>1,311</i><i>$</i><i>-</i><i>$</i><i>1,311</i><i>$</i><i>-</i><i>$</i><i>1,311</i><i>$</i><i>-</i><i>$</i><i>-</i><i>$</i><i>-</i><i>$</i><i>6,278</i><i>8%</i></div>
<div class="a" style="top:230.8px"><i>Training</i><i>$</i><i>-</i><i>$</i><i>3,300</i><i>$</i><i>-</i><i>$</i><i>1,475</i><i>$</i><i>2,902</i><i>$</i><i>1,475</i><i>$</i><i>2,902</i><i>$</i><i>-</i><i>$</i><i>4,075</i><i>$</i><i>-</i><i>$</i><i>-</i><i>$</i><i>-</i><i>$</i><i>17,024</i><i>22%</i></div>
<div class="a" style="top:238.2px"><i>Travel</i><i>$</i><i>-</i><i>$</i><i>130</i><i>$</i><i>-</i><i>$</i><i>-</i><i>$</i><i>130</i><i>$</i><i>-</i><i>$</i><i>130</i><i>$</i><i>-</i><i>$</i><i>130</i><i>$</i><i>-</i><i>$</i><i>-</i><i>$</i><i>-</i><i>$</i><i>519</i><i>1%</i></div>
<div class="a" style="top:245.6px"><i>Marketing</i><i>$</i><i>-</i><i>$</i><i>1,666</i><i>$</i><i>520</i><i>$</i><i>-</i><i>$</i><i>1,666</i><i>$</i><i>520</i><i>$</i><i>1,666</i><i>$</i><i>520</i><i>$</i><i>1,666</i><i>$</i><i>-</i><i>$</i><i>-</i><i>$</i><i>-</i><i>$</i><i>8,317</i><i>10%</i></div>
<div class="a" style="top:253px"><i>Software</i><i>$</i><i>-</i><i>$</i><i>-</i><i>$</i><i>3,669</i><i>$</i><i>334</i><i>$</i><i>2,243</i><i>$</i><i>1,684</i><i>$</i><i>1,814</i><i>$</i><i>1,074</i><i>$</i><i>-</i><i>$</i><i>1,914</i><i>$</i><i>-</i><i>$</i><i>-</i><i>$</i><i>14,135</i><i>18%</i></div>
<div class="a" style="top:260.4px"><i>Utilities</i><i>$</i><i>-</i><i>$</i><i>-</i><i>$</i><i>1,843</i><i>$</i><i>-</i><i>$</i><i>1,843</i><i>$</i><i>-</i><i>$</i><i>1,843</i><i>$</i><i>-</i><i>$</i><i>-</i><i>$</i><i>-</i><i>$</i><i>-</i><i>$</i><i>-</i><i>$</i><i>5,528</i><i>7%</i></div>
<div class="a" style="top:267.8px"><i>Rent</i><i>$</i><i>-</i><i>$</i><i>-</i><i>$</i><i>2,074</i><i>$</i><i>3,027</i><i>$</i><i>1,418</i><i>$</i><i>2,027</i><i>$</i><i>1,436</i><i>$</i><i>3,625</i><i>$</i><i>1,436</i><i>$</i><i>-</i><i>$</i><i>-</i><i>$</i><i>-</i><i>$</i><i>15,083</i><i>19%</i></div>
<div class="a" style="top:275.2px"><i>Entertainment</i><i>$</i><i>-</i><i>$</i><i>-</i><i>$</i><i>879</i><i>$</i><i>-</i><i>$</i><i>-</i><i>$</i><i>879</i><i>$</i><i>-</i><i>$</i><i>879</i><i>$</i><i>-</i><i>$</i><i>-</i><i>$</i><i>-</i><i>$</i><i>-</i><i>$</i><i>2,636</i><i>3%</i></div>
<div class="a" style="top:282.6px"><i>Legal Fees</i><i>$</i><i>-</i><i>$</i><i>-</i><i>$</i><i>930</i><i>$</i><i>1,087</i><i>$</i><i>-</i><i>$</i><i>1,058</i><i>$</i><i>-</i><i>$</i><i>1,058</i><i>$</i><i>-</i><i>$</i><i>-</i><i>$</i><i>-</i><i>$</i><i>-</i><i>$</i><i>5,607</i><i>7%</i></div>
</div>

<!-- plant (on top) -->
<svg id="plant" width="918" height="682">
<path d="M737,0 L782,0 C815,22 855,48 884,76 C845,58 790,30 737,0Z" fill="#3d6733"/>
<path d="M748,0 C795,26 842,52 884,76" stroke="#729a62" stroke-width=".7" fill="none"/>
<path d="M893,42 C897,24 906,8 918,0 L918,14 C910,24 901,35 893,42Z" fill="#9cb597"/>
<path d="M880,0 C886,40 892,80 896,115 C900,140 908,165 918,192" stroke="#2d5925" stroke-width="3.2" fill="none"/>
</svg>
</body></html>
